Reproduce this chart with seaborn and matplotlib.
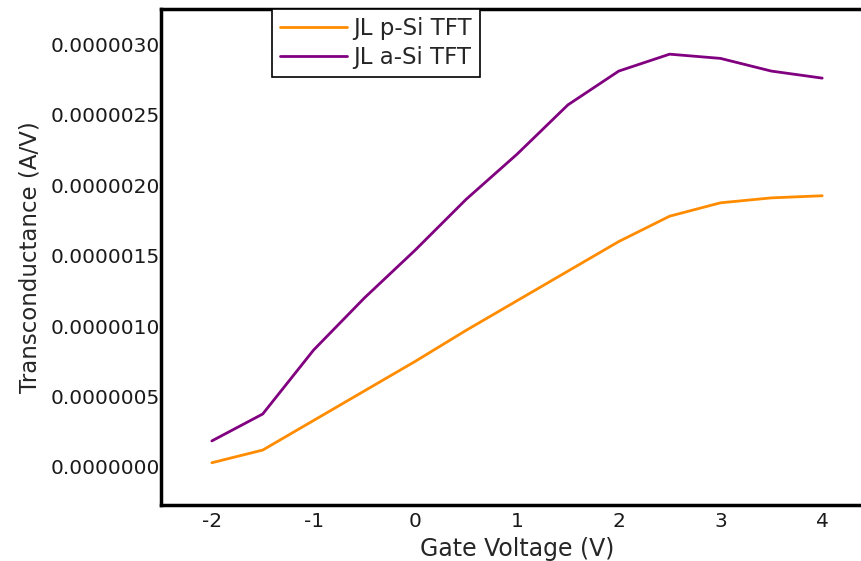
import pandas as pd
import seaborn as sns
import matplotlib.pyplot as plt

# Valeurs
gate_voltage = [-2, -1.5, -1, -0.5, 0, 0.5, 1, 1.5, 2, 2.5, 3, 3.5, 4]
gm_psi = [0.03e-6, 0.12e-6, 0.33e-6, 0.54e-6, 0.75e-6, 0.97e-6, 1.18e-6, 1.39e-6,
          1.60e-6, 1.78e-6, 1.875e-6, 1.91e-6, 1.925e-6]
gm_asi = [0.185e-6, 0.376e-6, 0.83e-6, 1.20e-6, 1.54e-6, 1.90e-6, 2.22e-6, 2.57e-6,
          2.81e-6, 2.93e-6, 2.90e-6, 2.81e-6, 2.76e-6]
series_names = ['JL p-Si TFT', 'JL a-Si TFT']
colors = ['#FF8C00', '#800080']

df = pd.DataFrame({
    'Gate Voltage': gate_voltage * 2,
    'gm': gm_psi + gm_asi,
    'Device': [series_names[0]] * len(gate_voltage) + [series_names[1]] * len(gate_voltage),
})

sns.set_style('white')
plt.rcParams['font.family'] = ['DejaVu Sans']
plt.rcParams['axes.unicode_minus'] = False

fig = plt.figure(figsize=(8.61, 5.61), dpi=100)
ax = fig.add_axes([0.187, 0.0998, 0.827, 0.884])

sns.lineplot(data=df, x='Gate Voltage', y='gm', hue='Device', palette=colors,
             linewidth=2, ax=ax)

ax.set_xlim(-2.5, 4.5)
ax.set_ylim(-0.27e-6, 3.25e-6)
ax.set_xticks([-2, -1, 0, 1, 2, 3, 4])
ax.set_yticks([0, 0.5e-6, 1e-6, 1.5e-6, 2e-6, 2.5e-6, 3e-6])
ax.set_yticklabels(['%.7f' % v for v in ax.get_yticks()])
ax.tick_params(axis='both', length=0, labelsize=14.5, colors='#1a1a1a')
ax.tick_params(axis='x', pad=5)
ax.tick_params(axis='y', pad=1)

ax.set_xlabel('Gate Voltage (V)', fontsize=17, labelpad=4)
ax.set_ylabel('Transconductance (A/V)', fontsize=16.5, labelpad=6)

for side in ['left', 'bottom', 'top']:
    ax.spines[side].set_color('black')
    ax.spines[side].set_linewidth(2.5)
ax.spines['right'].set_visible(False)

leg = ax.legend(loc='upper left', bbox_to_anchor=(0.156, 1.0), borderaxespad=0,
                fontsize=16.5, frameon=True, fancybox=False, framealpha=1,
                edgecolor='black', handlelength=2.9, handletextpad=0.3,
                labelspacing=0.25, borderpad=0.35, title=None)
leg.get_frame().set_linewidth(1.2)

fig.savefig('out.png', dpi=100)
